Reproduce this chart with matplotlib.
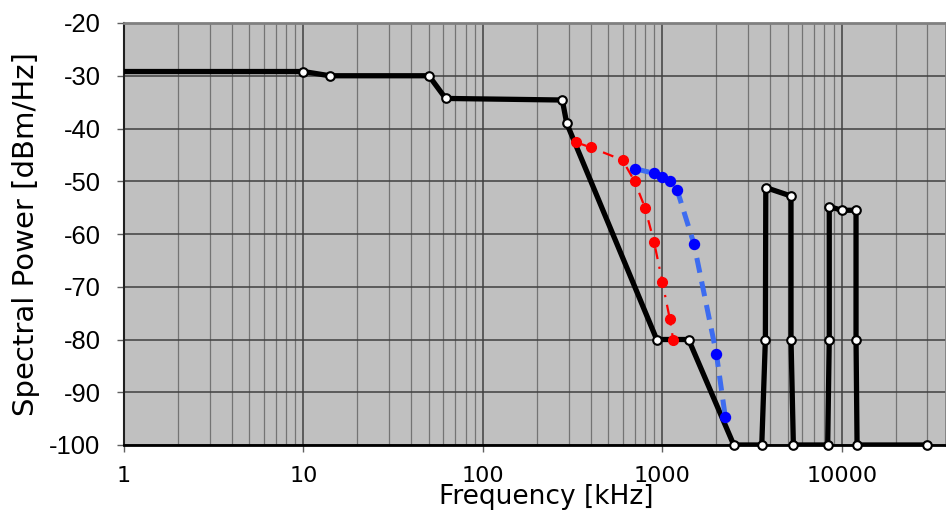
import matplotlib
matplotlib.use("Agg")
import matplotlib.pyplot as plt
from matplotlib.ticker import FixedLocator, LogLocator, NullFormatter, FixedFormatter

# ---- data ----
black_f = [1, 10, 14, 50, 62, 277, 293, 930, 1400, 2500, 3580, 3750, 3770, 5210, 5210, 5370,
           8340, 8510, 8510, 10000, 12000, 12000, 12160, 30000]
black_p = [-29.2, -29.2, -30.0, -30.0, -34.3, -34.6, -39.0, -80.0, -80.0, -100.0, -100.0, -80.0,
           -51.2, -52.8, -80.0, -100.0, -100.0, -80.0, -54.8, -55.5, -55.5, -80.0, -100.0, -100.0]

red_f = [330, 400, 600, 700, 800, 900, 1000, 1100, 1150]
red_p = [-42.6, -43.6, -46.0, -50.0, -55.0, -61.6, -69.1, -76.1, -80.1]

blue_f = [700, 900, 1000, 1100, 1210, 1500, 2000, 2240]
blue_p = [-47.6, -48.5, -49.1, -50.0, -51.7, -61.9, -82.7, -94.6]

x_ticks = [1, 10, 100, 1000, 10000]
x_tick_labels = ["1", "10", "100", "1000", "10000"]
y_ticks = [-100, -90, -80, -70, -60, -50, -40, -30, -20]
y_tick_labels = ["-100", "-90", "-80", "-70", "-60", "-50", "-40", "-30", "-20"]

# ---- figure ----
W, H = 946, 515
fig = plt.figure(figsize=(W / 100, H / 100), dpi=100)
left_px, right_px, top_px, bot_px = 124, 946, 23, 445
ax = fig.add_axes([left_px / W, (H - bot_px) / H, (right_px - left_px) / W, (bot_px - top_px) / H])
ax.set_facecolor("#c0c0c0")
ax.set_xscale("log")
ax.set_xlim(1, 10 ** ((946 - 123.8) / 179.5))
ax.set_ylim(-100, -20)

# grid
ax.xaxis.set_major_locator(FixedLocator(x_ticks))
ax.xaxis.set_major_formatter(FixedFormatter(x_tick_labels))
ax.xaxis.set_minor_locator(LogLocator(base=10, subs=range(2, 10), numticks=20))
ax.xaxis.set_minor_formatter(NullFormatter())
ax.yaxis.set_major_locator(FixedLocator(y_ticks))
ax.yaxis.set_major_formatter(FixedFormatter(y_tick_labels))
ax.grid(True, which="major", axis="x", color="#404040", lw=1.1, zorder=0)
ax.grid(True, which="minor", axis="x", color="#747474", lw=0.9, zorder=0)
ax.grid(True, which="major", axis="y", color="#404040", lw=1.1, zorder=0)
ax.set_axisbelow(True)

ax.tick_params(axis="x", which="major", direction="out", length=5, width=1, color="#606060",
               pad=10, labelsize=16)
ax.tick_params(axis="x", which="minor", length=0)
ax.tick_params(axis="y", which="major", direction="out", length=5, width=1, color="#606060",
               pad=12, labelsize=18.4)
for lab in ax.get_yticklabels():
    lab.set_fontfamily("Liberation Sans")

for side in ["top", "right"]:
    ax.spines[side].set_color("#808080")
    ax.spines[side].set_linewidth(2)
ax.spines["left"].set_color("#202020")
ax.spines["left"].set_linewidth(1.5)
ax.spines["bottom"].set_color("#000000")
ax.spines["bottom"].set_linewidth(2)

# black series
ax.plot(black_f, black_p, color="black", lw=3.8, solid_joinstyle="round", zorder=3, clip_on=True)
ax.plot(black_f[1:], black_p[1:], ls="none", marker="o", ms=6.2, mfc="white", mec="black",
        mew=1.5, zorder=4, clip_on=False)

# red series
ax.plot(red_f, red_p, color="#ff0000", lw=1.6, ls=(0, (5, 3.5, 1, 3.5)), marker="o", ms=7,
        mfc="#ff0000", mec="#ff0000", zorder=5)

# blue series
ax.plot(blue_f, blue_p, color="#3d6cf0", lw=3.6, ls=(0, (3.0, 1.8)), zorder=6)
ax.plot(blue_f, blue_p, ls="none", marker="o", ms=7.2, mfc="#0000ff", mec="#0000ff", zorder=7)

ax.set_xlabel("Frequency [kHz]", fontsize=19, family="DejaVu Sans")
ax.xaxis.set_label_coords((546 - 124) / 822, -(484 - 445) / 422)
ax.set_ylabel("Spectral Power [dBm/Hz]", fontsize=21, family="DejaVu Sans")
ax.yaxis.set_label_coords(-(124 - 40) / 822, (445 - 234) / 422)

fig.savefig("out.png", dpi=100)
